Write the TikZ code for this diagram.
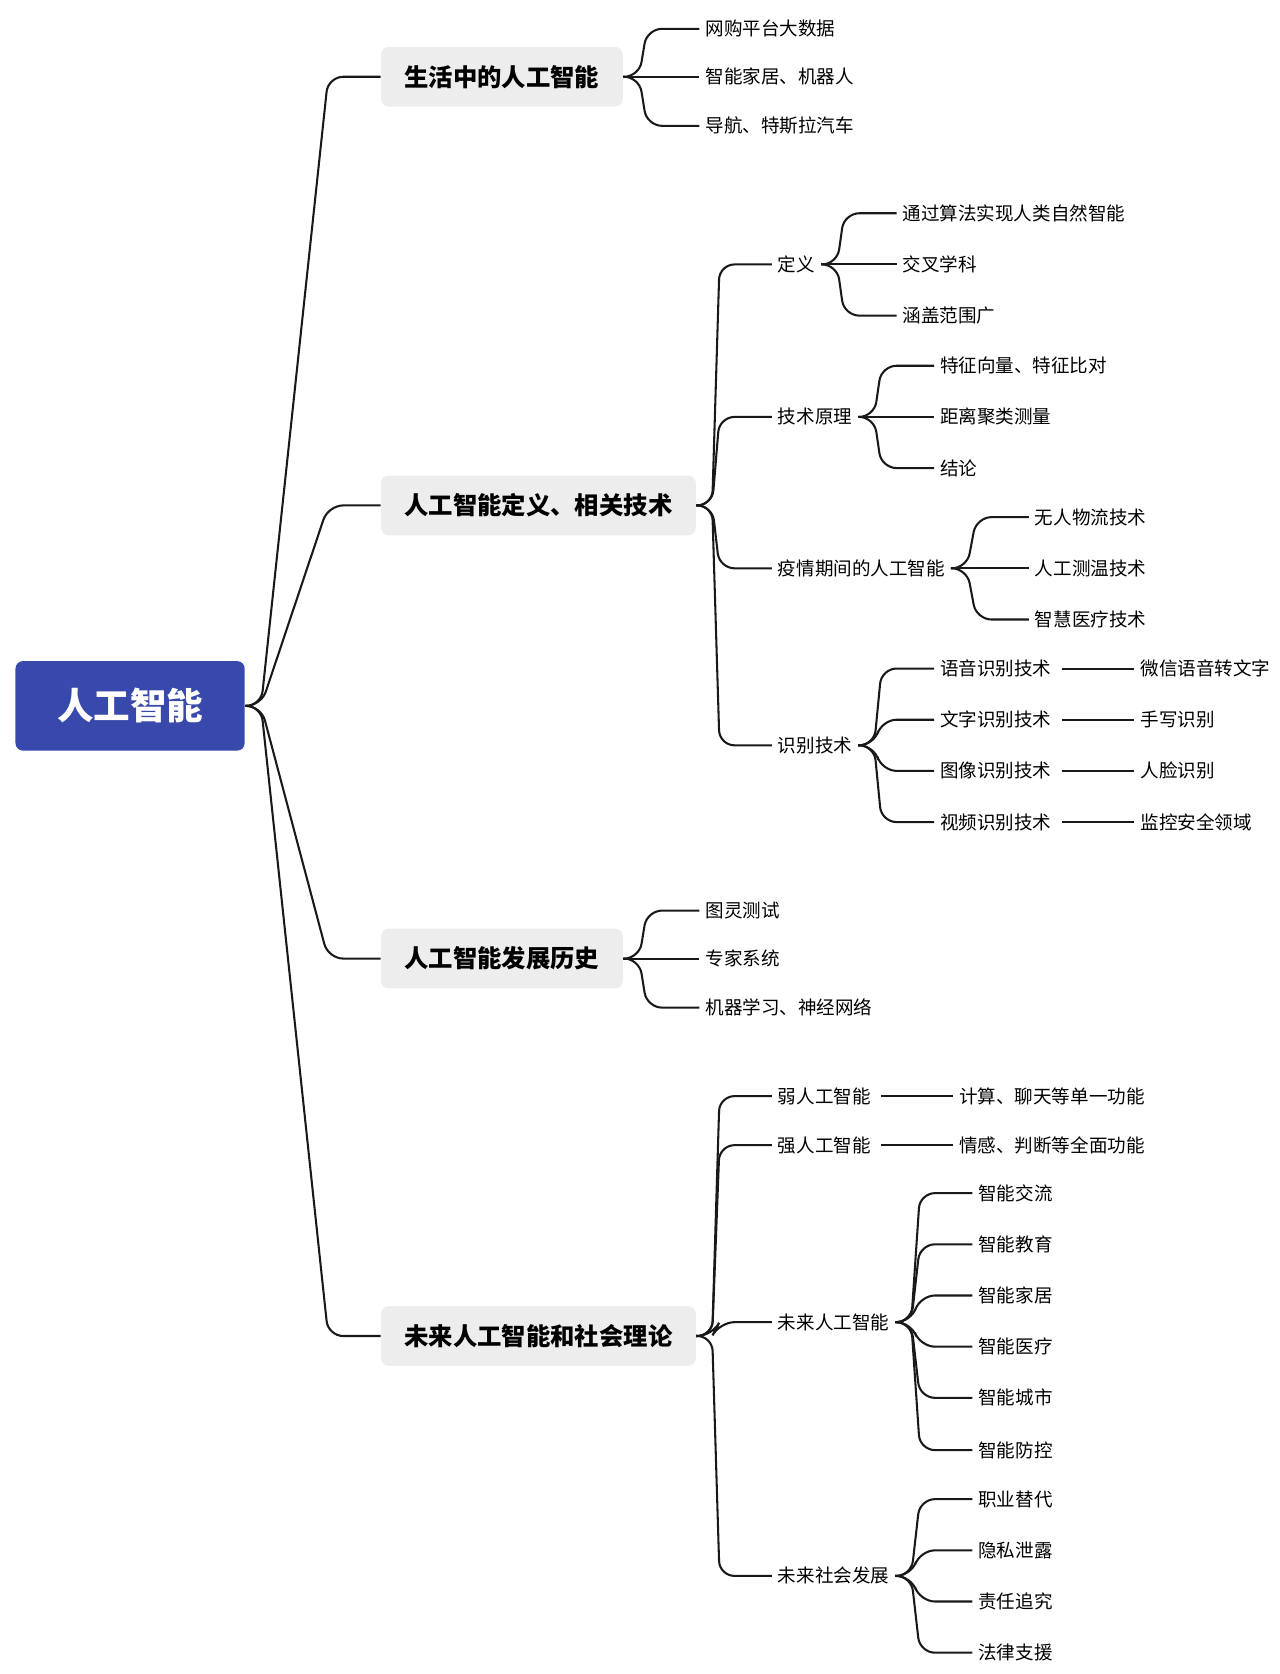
\documentclass[tikz,border=0pt]{standalone}
\usepackage{fontspec}
\setmainfont{Noto Sans CJK SC}
\usetikzlibrary{positioning}
\definecolor{rootblue}{HTML}{3949AB}
\definecolor{topicgray}{HTML}{EDEDED}

\begin{document}
\begin{tikzpicture}[
        x=0.02cm, y=-0.02cm,
        rnode/.style={rectangle, rounded corners=4pt, fill=rootblue, text=white, minimum width=4.3cm, minimum height=1.68cm, font=\fontsize{19.5}{22}\selectfont\bfseries},
        tnode/.style={rectangle, rounded corners=4pt, fill=topicgray, anchor=west, minimum height=1.12cm, inner xsep=0.44cm, font=\fontsize{13}{15}\selectfont\bfseries},
        lnode/.style={anchor=west, inner sep=3pt, font=\fontsize{9.9}{12}\selectfont},
        link/.style={line width=1.1pt, black!90, rounded corners=8pt},
        branch/.style={to path={-- ++(15,0) -- ([xshift=-28]\tikztotarget.west) -- (\tikztotarget.west)}},
      ]
        \useasboundingbox (0,0) rectangle (1200,1570);

        \node[rnode] (root) at (122,662) {人工智能};

        \node[tnode] (life)   at (357,72)   {生活中的人工智能};
        \node[tnode] (tech)   at (357,474)  {人工智能定义、相关技术};
        \node[tnode] (hist)   at (357,899)  {人工智能发展历史};
        \node[tnode] (future) at (357,1253) {未来人工智能和社会理论};

        % level 2
        \node[lnode] (defn)  at (724,248)  {定义};
        \node[lnode] (princ) at (724,391)  {技术原理};
        \node[lnode] (covid) at (724,533)  {疫情期间的人工智能};
        \node[lnode] (recog) at (724,699)  {识别技术};
        \node[lnode] (weak)  at (724,1028) {弱人工智能};
        \node[lnode] (strong) at (724,1074) {强人工智能};
        \node[lnode] (fai)   at (724,1240) {未来人工智能};
        \node[lnode] (fsoc)  at (724,1478) {未来社会发展};

        \foreach \t in {life, tech, hist, future}
          \draw[link] (root.east) to[branch] (\t);
        \foreach \t in {defn, princ, covid, recog}
          \draw[link] (tech.east) to[branch] (\t);
        \foreach \t in {weak, strong, fai, fsoc}
          \draw[link] (future.east) to[branch] (\t);

        % leaves
        \foreach \i/\y/\txt in {1/27/网购平台大数据, 2/72/智能家居、机器人, 3/118/导航、特斯拉汽车} {
          \node[lnode] (life\i) at (656,\y) {\txt};
          \draw[link] (life.east) to[branch] (life\i);
        }
        \foreach \i/\y/\txt in {1/200/通过算法实现人类自然智能, 2/248/交叉学科, 3/296/涵盖范围广} {
          \node[lnode] (defn\i) at (841,\y) {\txt};
          \draw[link] (defn.east) to[branch] (defn\i);
        }
        \foreach \i/\y/\txt in {1/343/特征向量、特征比对, 2/391/距离聚类测量, 3/439/结论} {
          \node[lnode] (princ\i) at (876,\y) {\txt};
          \draw[link] (princ.east) to[branch] (princ\i);
        }
        \foreach \i/\y/\txt in {1/485/无人物流技术, 2/533/人工测温技术, 3/581/智慧医疗技术} {
          \node[lnode] (covid\i) at (965,\y) {\txt};
          \draw[link] (covid.east) to[branch] (covid\i);
        }
        \foreach \i/\y/\txt/\use in {1/627/语音识别技术/微信语音转文字, 2/675/文字识别技术/手写识别, 3/723/图像识别技术/人脸识别, 4/771/视频识别技术/监控安全领域} {
          \node[lnode] (recog\i) at (876,\y) {\txt};
          \node[lnode] (use\i) at (1064,\y) {\use};
          \draw[link] (recog.east) to[branch] (recog\i);
          \draw[link] (recog\i.east) ++(4,0) -- (use\i.west);
        }
        \foreach \i/\y/\txt in {1/854/图灵测试, 2/899/专家系统, 3/945/机器学习、神经网络} {
          \node[lnode] (hist\i) at (656,\y) {\txt};
          \draw[link] (hist.east) to[branch] (hist\i);
        }
        \node[lnode] (weak1)   at (894,1028) {计算、聊天等单一功能};
        \node[lnode] (strong1) at (894,1074) {情感、判断等全面功能};
        \draw[link] (weak.east) ++(4,0) -- (weak1.west);
        \draw[link] (strong.east) ++(4,0) -- (strong1.west);
        \foreach \i/\y/\txt in {1/1119/智能交流, 2/1167/智能教育, 3/1215/智能家居, 4/1263/智能医疗, 5/1311/智能城市, 6/1360/智能防控} {
          \node[lnode] (fai\i) at (912,\y) {\txt};
          \draw[link] (fai.east) to[branch] (fai\i);
        }
        \foreach \i/\y/\txt in {1/1406/职业替代, 2/1454/隐私泄露, 3/1502/责任追究, 4/1550/法律支援} {
          \node[lnode] (fsoc\i) at (912,\y) {\txt};
          \draw[link] (fsoc.east) to[branch] (fsoc\i);
        }
      \end{tikzpicture}
\end{document}
